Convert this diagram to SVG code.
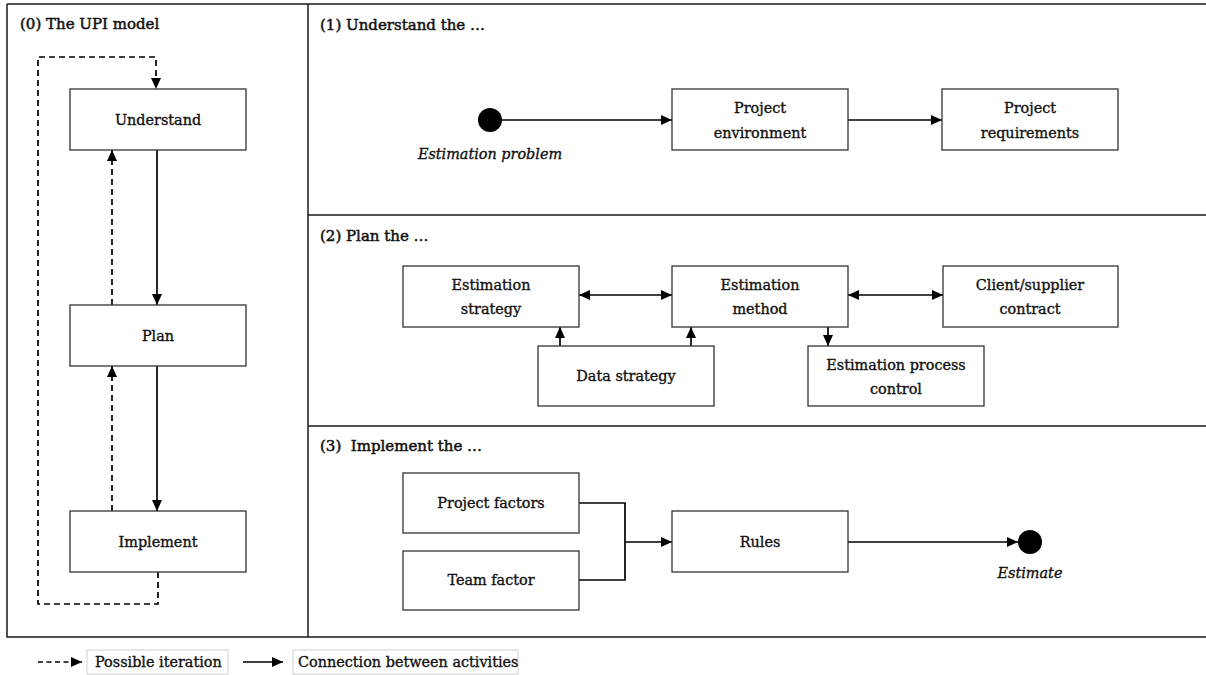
<svg xmlns="http://www.w3.org/2000/svg" width="1206" height="675" viewBox="0 0 1206 675">
<style>
text{font-family:"DejaVu Serif","Liberation Serif",serif;fill:#111;stroke:#111;stroke-width:0.35;}
.t{font-size:15px;stroke-width:0.5;}
.n{font-size:14.4px;text-anchor:middle;}
.i{font-size:14.4px;font-style:italic;text-anchor:middle;}
.lg{font-size:14.4px;}
.box{fill:#fff;stroke:#333;stroke-width:1.3;}
.lgbox{fill:#fff;stroke:#d0d0d0;stroke-width:1;}
.frame{fill:none;stroke:#1a1a1a;stroke-width:1.5;}
.c{fill:none;stroke:#000;stroke-width:1.7;}
.d{fill:none;stroke:#000;stroke-width:1.7;stroke-dasharray:6,4;}
.ah{marker-end:url(#arr);}
.bi{marker-start:url(#arr);marker-end:url(#arr);}
</style>
<defs>
<marker id="arr" markerUnits="userSpaceOnUse" markerWidth="12" markerHeight="11" refX="11" refY="5.5" orient="auto-start-reverse" viewBox="0 0 12 11">
<path d="M0,0.5 L11,5.5 L0,10.5 z" fill="#000"/>
</marker>
</defs>
<rect width="1206" height="675" fill="#fff"/>
<g id="frame">
<path class="frame" d="M7,4 H1206 M7,4 V637 H1206 M308,4 V637 M308,215 H1206 M308,426 H1206"/>
</g>
<g id="titles">
<text class="t" x="20" y="29">(0) The UPI model</text>
<text class="t" x="320" y="30">(1) Understand the …</text>
<text class="t" x="320" y="241">(2) Plan the …</text>
<text class="t" x="320" y="451" xml:space="preserve">(3)  Implement the …</text>
</g>
<g id="connectors">
<line class="c ah" x1="157" y1="150" x2="157" y2="305"/>
<line class="c ah" x1="157" y1="366" x2="157" y2="511"/>
<line class="d ah" x1="112" y1="305" x2="112" y2="150"/>
<line class="d ah" x1="112" y1="511" x2="112" y2="366"/>
<path class="d ah" d="M158,572 V604 H38 V57 H156 V89"/>
<line class="c ah" x1="502" y1="120" x2="672" y2="120"/>
<line class="c ah" x1="848" y1="120" x2="942" y2="120"/>
<line class="c bi" x1="579" y1="295" x2="672" y2="295"/>
<line class="c bi" x1="848" y1="295" x2="943" y2="295"/>
<line class="c ah" x1="560" y1="346" x2="560" y2="327"/>
<line class="c ah" x1="691" y1="346" x2="691" y2="327"/>
<line class="c ah" x1="828" y1="327" x2="828" y2="346"/>
<path class="c" d="M579,503 H625 V580 H579"/>
<line class="c ah" x1="625" y1="542" x2="672" y2="542"/>
<line class="c ah" x1="848" y1="542" x2="1018" y2="542"/>
</g>
<g id="understand"><rect class="box" x="70" y="89" width="176" height="61"/><text class="n" x="158" y="125">Understand</text></g>
<g id="plan"><rect class="box" x="70" y="305" width="176" height="61"/><text class="n" x="158" y="341">Plan</text></g>
<g id="implement"><rect class="box" x="70" y="511" width="176" height="61"/><text class="n" x="158" y="547">Implement</text></g>
<g id="estimation-problem"><circle cx="490" cy="120" r="12" fill="#000"/><text class="i" x="490" y="159">Estimation problem</text></g>
<g id="project-environment"><rect class="box" x="672" y="89" width="176" height="61"/><text class="n" x="760" y="113">Project</text><text class="n" x="760" y="138">environment</text></g>
<g id="project-requirements"><rect class="box" x="942" y="89" width="176" height="61"/><text class="n" x="1030" y="113">Project</text><text class="n" x="1030" y="138">requirements</text></g>
<g id="estimation-strategy"><rect class="box" x="403" y="266" width="176" height="61"/><text class="n" x="491" y="290">Estimation</text><text class="n" x="491" y="314">strategy</text></g>
<g id="estimation-method"><rect class="box" x="672" y="266" width="176" height="61"/><text class="n" x="760" y="290">Estimation</text><text class="n" x="760" y="314">method</text></g>
<g id="client-supplier-contract"><rect class="box" x="943" y="266" width="175" height="61"/><text class="n" x="1030" y="290">Client/supplier</text><text class="n" x="1030" y="314">contract</text></g>
<g id="data-strategy"><rect class="box" x="538" y="346" width="176" height="60"/><text class="n" x="626" y="381">Data strategy</text></g>
<g id="estimation-process-control"><rect class="box" x="808" y="346" width="176" height="60"/><text class="n" x="896" y="370">Estimation process</text><text class="n" x="896" y="394">control</text></g>
<g id="project-factors"><rect class="box" x="403" y="473" width="176" height="60"/><text class="n" x="491" y="508">Project factors</text></g>
<g id="team-factor"><rect class="box" x="403" y="551" width="176" height="59"/><text class="n" x="491" y="585">Team factor</text></g>
<g id="rules"><rect class="box" x="672" y="511" width="176" height="61"/><text class="n" x="760" y="547">Rules</text></g>
<g id="estimate"><circle cx="1030" cy="542" r="12" fill="#000"/><text class="i" x="1030" y="578">Estimate</text></g>
<g id="legend">
<line class="d ah" x1="38" y1="662" x2="82" y2="662" style="stroke-dasharray:5,3.5"/>
<rect class="lgbox" x="87" y="650" width="141" height="24"/>
<text class="lg" x="95" y="667">Possible iteration</text>
<line class="c ah" x1="243" y1="662" x2="283" y2="662"/>
<rect class="lgbox" x="293" y="650" width="225" height="24"/>
<text class="lg" x="298" y="667">Connection between activities</text>
</g>
</svg>
